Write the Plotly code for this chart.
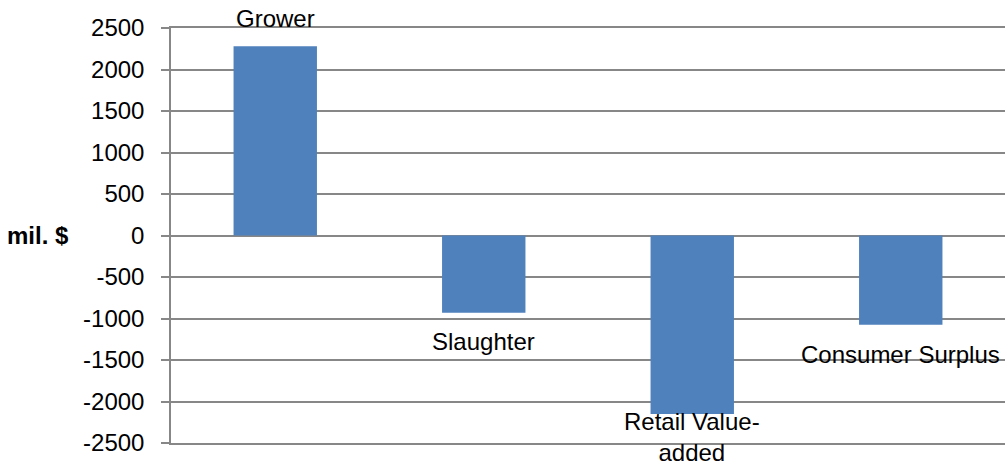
import plotly.graph_objects as go

categories = ["Grower", "Slaughter", "Retail Value-added", "Consumer Surplus"]
label_text = ["Grower", "Slaughter", "Retail Value-<br>added", "Consumer Surplus"]
values = [2280, -930, -2150, -1075]
tick_vals = [2500, 2000, 1500, 1000, 500, 0, -500, -1000, -1500, -2000, -2500]

label_shift = [28, -29, -23, -30]

FONT = "Liberation Sans"
GRID = "#878787"

fig = go.Figure()
fig.add_trace(go.Bar(
    x=categories, y=values,
    marker=dict(color="#4F81BD", line=dict(width=0)),
    width=0.4,
    hoverinfo="skip",
))

for c, t, v, s in zip(categories, label_text, values, label_shift):
    fig.add_annotation(x=c, y=v, text=t, showarrow=False, yanchor="middle",
                       xanchor="center", yshift=s,
                       font=dict(family=FONT, size=24, color="#000000"))

fig.add_annotation(xref="paper", x=0, y=0, text="<b>mil. $</b>", showarrow=False,
                   xanchor="right", yanchor="middle", xshift=-100,
                   font=dict(family=FONT, size=24, color="#000000"))

fig.update_layout(
    width=1005, height=468,
    margin=dict(l=171, r=0, t=28, b=25, autoexpand=False),
    plot_bgcolor="white", paper_bgcolor="white",
    showlegend=False,
    bargap=0.6,
    font=dict(family=FONT, size=24, color="#000000"),
)
fig.update_xaxes(showticklabels=False, showgrid=False, zeroline=False,
                 showline=True, mirror=True, linecolor=GRID, linewidth=1.5,
                 ticks="", automargin=False)
fig.update_yaxes(range=[-2500, 2500], tickvals=tick_vals,
                 ticktext=[str(v) for v in tick_vals],
                 automargin=False,
                 showgrid=True, gridcolor=GRID, gridwidth=1.5,
                 zeroline=False, showline=True, linecolor=GRID, linewidth=1.5,
                 ticks="outside", ticklen=8, tickcolor=GRID, tickwidth=1.5,
                 ticklabelstandoff=12,
                 tickfont=dict(family=FONT, size=24, color="#000000"))

fig.write_html("out.html",
               config={"displayModeBar": False},
               post_script="document.body.style.margin='0';document.body.style.overflow='hidden';")
